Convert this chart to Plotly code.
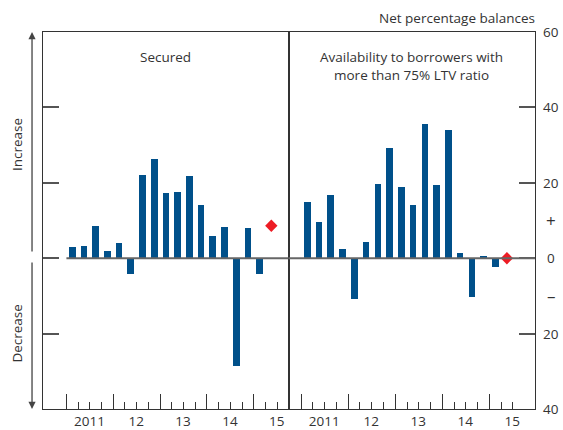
import plotly.graph_objects as go

# ---- data ----
quarters = ["2011 Q1", "2011 Q2", "2011 Q3", "2011 Q4",
            "2012 Q1", "2012 Q2", "2012 Q3", "2012 Q4",
            "2013 Q1", "2013 Q2", "2013 Q3", "2013 Q4",
            "2014 Q1", "2014 Q2", "2014 Q3", "2014 Q4",
            "2015 Q1"]
expected_quarter = "2015 Q2"
secured = [3.0, 3.2, 8.5, 2.0, 4.0, -4.3, 22.0, 26.3, 17.2, 17.5, 21.7, 14.0,
           5.8, 8.4, -28.7, 7.9, -4.3]
secured_expected = 8.6
ltv = [14.9, 9.6, 16.8, 2.4, -10.9, 4.3, 19.7, 29.3, 18.9, 14.1, 35.6, 19.4,
       34.0, 1.3, -10.4, 0.5, -2.3]
ltv_expected = 0.0
year_labels = ["2011", "12", "13", "14", "15"]
right_tick_vals = [60, 40, 20, 10, 0, -10, -20, -40]
right_tick_text = ["60", "40", "20", "+", "0", "–", "20", "40"]
panel_titles = ["Secured", "Availability to borrowers with<br>more than 75% LTV ratio"]

BLUE = "#00508A"
RED = "#ED1C24"
TXT = "#333333"
FONT = "Open Sans"
FS = 13.5

xs = list(range(len(quarters)))
x_exp = len(quarters)
year_starts = [i - 0.5 for i, q in enumerate(quarters) if q.endswith("Q1")]
q_bounds = [i - 0.5 for i in range(len(quarters) + 2)]

range1 = [-2.5, 18.49]
range2 = [-1.56, 19.39]

fig = go.Figure()
for xa, ya, vals, ev in [("x", "y", secured, secured_expected), ("x2", "y2", ltv, ltv_expected)]:
    fig.add_trace(go.Bar(x=xs, y=vals, xaxis=xa, yaxis=ya, marker_color=BLUE,
                         marker_line_width=0, width=0.57, showlegend=False, hoverinfo="skip"))
    fig.add_trace(go.Scatter(x=[x_exp], y=[ev], xaxis=xa, yaxis=ya, mode="markers",
                             marker=dict(symbol="diamond", size=9.5, color=RED),
                             showlegend=False, cliponaxis=False, hoverinfo="skip"))

xcommon = dict(tickvals=year_starts, ticktext=year_labels, ticks="inside", ticklen=15,
               tickwidth=1.3, tickcolor=TXT, ticklabelshift=23, ticklabelstandoff=0,
               minor=dict(tickvals=q_bounds, ticks="inside", ticklen=7, tickwidth=1.3, tickcolor=TXT),
               showline=True, mirror=True, linecolor=TXT, linewidth=1.3, automargin=False,
               showgrid=False, zeroline=False, tickfont=dict(size=FS, color=TXT, family=FONT))
ycommon = dict(range=[-40, 60], tickvals=[-20, 0, 20, 40], ticks="inside", ticklen=16,
               tickwidth=1.5, tickcolor="#555555", showticklabels=False, automargin=False,
               showline=True, mirror=True, linecolor=TXT, linewidth=1.3,
               showgrid=False, zeroline=False)

fig.update_layout(
    width=563, height=430,
    margin=dict(l=43, r=27.5, t=32, b=20.5, autoexpand=False),
    plot_bgcolor="white", paper_bgcolor="white",
    font=dict(family=FONT, size=FS, color=TXT),
    bargap=0,
    hovermode=False,
    xaxis=dict(domain=[0, 0.4995], range=range1, anchor="y", **xcommon),
    xaxis2=dict(domain=[0.4995, 1], range=range2, anchor="y2", **xcommon),
    yaxis=dict(anchor="x", side="left", **ycommon),
    yaxis2=dict(anchor="x2", side="right", **ycommon),
)

# zero lines
fig.add_shape(type="line", xref="x", yref="y", x0=-0.5, x1=range1[1], y0=0, y1=0,
              line=dict(color="#666666", width=2), layer="above")
fig.add_shape(type="line", xref="x2", yref="y2", x0=range2[0], x1=range2[1], y0=0, y1=0,
              line=dict(color="#666666", width=2), layer="above")

ann = []
# panel titles
ann.append(dict(text=panel_titles[0], xref="x domain", yref="paper", x=0.5, y=0.963,
                xanchor="center", yanchor="top", showarrow=False))
ann.append(dict(text=panel_titles[1], xref="x2 domain", yref="paper", x=0.5, y=0.963,
                xanchor="center", yanchor="top", showarrow=False))
# unit label
ann.append(dict(text="Net percentage balances", xref="paper", yref="paper", x=1, y=1,
                xanchor="right", yanchor="middle", xshift=2, yshift=14, showarrow=False))
# right tick labels
for v, t in zip(right_tick_vals, right_tick_text):
    big = t in ("+", "–")
    ann.append(dict(text=t, xref="paper", yref="y", x=1, y=v, xshift=16, xanchor="center",
                    yanchor="middle", showarrow=False, font=dict(size=17 if big else FS)))
# increase / decrease
ann.append(dict(text="Increase", xref="paper", yref="y", x=-0.0528, y=30, textangle=-90,
                xanchor="center", yanchor="middle", showarrow=False))
ann.append(dict(text="Decrease", xref="paper", yref="y", x=-0.0528, y=-20, textangle=-90,
                xanchor="center", yanchor="middle", showarrow=False))
# arrows
ann.append(dict(text="", xref="paper", yref="y", x=-0.0223, y=60, ax=0, ay=221,
                showarrow=True, arrowhead=2, arrowsize=1.1, arrowwidth=1.3, arrowcolor="#444444"))
ann.append(dict(text="", xref="paper", yref="y", x=-0.0223, y=-40, ax=0, ay=-148,
                showarrow=True, arrowhead=2, arrowsize=1.1, arrowwidth=1.3, arrowcolor="#444444"))
fig.update_layout(annotations=ann)

fig.write_html("out.html", config={"displayModeBar": False},
               post_script="document.body.style.margin='0';")
